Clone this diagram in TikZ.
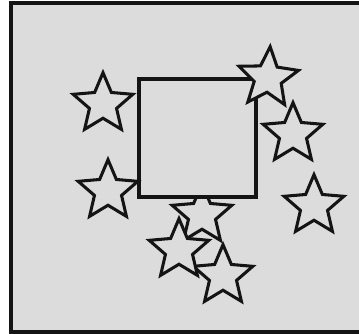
\documentclass[tikz,border=0pt]{standalone}
\usepackage{xcolor}
\usepackage{tikz}
\usetikzlibrary{shapes.geometric}
\definecolor{mygray}{RGB}{220,220,220}
\definecolor{mydark}{RGB}{20,20,20}
\tikzset{
  starnode/.style={star, star points=5, star point ratio=2.2,
    draw=mydark, fill=mygray, minimum size=1.88cm, inner sep=0pt,
    line width=2.6pt},
  boxnode/.style={rectangle, draw=mydark, fill=mygray, line width=3pt,
    minimum width=3.51cm, minimum height=3.54cm, inner sep=0pt}
}

\begin{document}
\begin{tikzpicture}[x=0.03cm, y=-0.03cm]
  \useasboundingbox (0,0) rectangle (359,334);
  \clip (0,0) rectangle (359,334);
  % panel
  \draw[line width=3pt, draw=mydark, fill=mygray] (11,3) rectangle (370,332);

  % star under the box
  \node[starnode] (s6) at (202,215) {};
  % the box
  \node[boxnode] (box) at (197.5,138) {};
  % the other stars
  \node[starnode] (s1) at (103,104) {};
  \node[starnode] (s2) at (108,191) {};
  \node[starnode, rotate=-4] (s3) at (268,78) {};
  \node[starnode] (s4) at (293,134) {};
  \node[starnode] (s5) at (314,206) {};
  \node[starnode] (s8) at (223,276) {};
  \node[starnode] (s7) at (179,250) {};
\end{tikzpicture}
\end{document}
